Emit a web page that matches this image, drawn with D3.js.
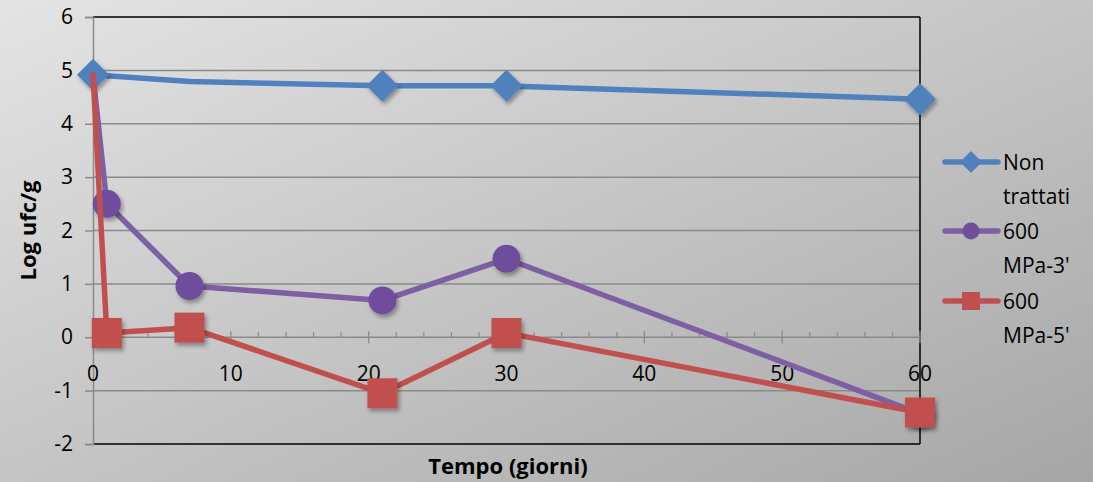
<!DOCTYPE html>
<html>
<head>
<meta charset="utf-8">
<script src="https://cdn.jsdelivr.net/npm/d3@7"></script>
<style>
  html, body { margin: 0; padding: 0; }
  body { width: 1093px; height: 482px; overflow: hidden; }
  svg { display: block; font-family: "Open Sans", "Noto Sans", sans-serif; }
</style>
</head>
<body>
<svg id="chart" width="1093" height="482"></svg>
<script>
// Sampling days
const days = [0, 1, 7, 21, 30, 60];

// Log ufc/g per series (null = not sampled)
const nonTrattati = [4.92, null, 4.79, 4.71, 4.71, 4.46];
const mpa3 = [4.92, 2.5, 0.96, 0.69, 1.47, -1.43];
const mpa5 = [4.92, 0.08, 0.18, -1.05, 0.08, -1.41];

const seriesNames = ["Non trattati", "600 MPa-3'", "600 MPa-5'"];
const legendLines = [["Non", "trattati"], ["600", "MPa-3'"], ["600", "MPa-5'"]];

const xTicks = [0, 10, 20, 30, 40, 50, 60];
const yTicks = [-2, -1, 0, 1, 2, 3, 4, 5, 6];

// Which points carry a marker
const markerShown = [
  [true, false, false, true, true, true],
  [false, true, true, true, true, true],
  [false, true, true, true, true, true]
];

const styles = [
  { color: "#4f81bd", fill: "#4f81bd", shape: "diamond" },
  { color: "#7e5fa3", fill: "#6f4e9c", shape: "circle" },
  { color: "#c0504d", fill: "#c0504d", shape: "square" }
];

const svg = d3.select("#chart");
const W = 1093, H = 482;

const defs = svg.append("defs");
const bg = defs.append("linearGradient").attr("id", "bg")
  .attr("x1", "0%").attr("y1", "0%").attr("x2", "100%").attr("y2", "100%");
bg.append("stop").attr("offset", "0%").attr("stop-color", "#e4e4e4");
bg.append("stop").attr("offset", "100%").attr("stop-color", "#a6a6a6");

const shadow = defs.append("filter").attr("id", "shadow")
  .attr("x", "-40%").attr("y", "-40%").attr("width", "190%").attr("height", "190%");
shadow.append("feDropShadow").attr("dx", 2).attr("dy", 3).attr("stdDeviation", 2)
  .attr("flood-color", "#000").attr("flood-opacity", 0.35);

svg.append("rect").attr("width", W).attr("height", H).attr("fill", "url(#bg)");

const x = d3.scaleLinear().domain([0, 60]).range([93, 920]);
const y = d3.scaleLinear().domain([-2, 6]).range([444, 17]);

const g = svg.append("g");

// Horizontal gridlines
g.selectAll("line.grid").data(yTicks.filter(v => v !== 6 && v !== -2 && v !== 0))
  .join("line").attr("class", "grid")
  .attr("x1", x(0)).attr("x2", x(60))
  .attr("y1", d => y(d)).attr("y2", d => y(d))
  .attr("stroke", "#8a8a8a").attr("stroke-width", 1.5);

// Plot frame: top, right, bottom in black
g.append("line").attr("x1", x(0)).attr("x2", x(60)).attr("y1", y(6)).attr("y2", y(6))
  .attr("stroke", "#000").attr("stroke-width", 1.5);
g.append("line").attr("x1", x(0)).attr("x2", x(60)).attr("y1", y(-2)).attr("y2", y(-2))
  .attr("stroke", "#000").attr("stroke-width", 1.5);
g.append("line").attr("x1", x(60)).attr("x2", x(60)).attr("y1", y(6)).attr("y2", y(-2))
  .attr("stroke", "#000").attr("stroke-width", 1.5);

// Y axis
const yAxis = d3.axisLeft(y).tickValues(yTicks).tickSize(8).tickPadding(12)
  .tickFormat(d => String(d));
const ya = svg.append("g").attr("transform", `translate(${x(0)},0)`).call(yAxis);
ya.select(".domain").attr("stroke", "#8a8a8a").attr("stroke-width", 1.5);
ya.selectAll(".tick line").attr("stroke", "#8a8a8a").attr("stroke-width", 1.5);
ya.selectAll(".tick text").attr("font-size", 21).attr("fill", "#000")
  .attr("font-family", "'Open Sans', sans-serif");

// X axis at y = 0, minor ticks above, major ticks crossing
const minorTicks = d3.range(0, 61, 2).filter(v => v % 10 !== 0);
const xa = svg.append("g").attr("transform", `translate(0,${y(0)})`);
xa.append("line").attr("x1", x(0)).attr("x2", x(60)).attr("stroke", "#8a8a8a").attr("stroke-width", 1.5);
xa.selectAll("line.minor").data(minorTicks).join("line").attr("class", "minor")
  .attr("x1", d => x(d)).attr("x2", d => x(d)).attr("y1", -5).attr("y2", 0)
  .attr("stroke", "#8a8a8a").attr("stroke-width", 1.3);
xa.selectAll("line.major").data(xTicks).join("line").attr("class", "major")
  .attr("x1", d => x(d)).attr("x2", d => x(d)).attr("y1", -6).attr("y2", 6)
  .attr("stroke", "#8a8a8a").attr("stroke-width", 1.3);
xa.selectAll("text").data(xTicks).join("text")
  .attr("x", d => x(d)).attr("y", 44).attr("text-anchor", "middle")
  .attr("font-size", 21).attr("fill", "#000").text(d => d);

// Axis titles
svg.append("text").attr("transform", `translate(36,${y(2)}) rotate(-90)`)
  .attr("text-anchor", "middle").attr("font-size", 22).attr("font-weight", "bold")
  .text("Log ufc/g");
svg.append("text").attr("x", 508).attr("y", 474).attr("text-anchor", "middle")
  .attr("font-size", 22).attr("font-weight", "bold").text("Tempo (giorni)");

// Markers
function drawMarker(sel, shape, fill, size) {
  if (shape === "diamond") {
    const h = size / 2;
    sel.append("path").attr("d", `M0,${-h}L${h},0L0,${h}L${-h},0Z`).attr("fill", fill);
  } else if (shape === "circle") {
    sel.append("circle").attr("r", size / 2).attr("fill", fill);
  } else {
    sel.append("rect").attr("x", -size / 2).attr("y", -size / 2)
      .attr("width", size).attr("height", size).attr("fill", fill);
  }
}

const allSeries = [nonTrattati, mpa3, mpa5];
const markerSize = { diamond: 32, circle: 28, square: 30 };
const line = d3.line().defined(d => d.v !== null).x(d => x(d.t)).y(d => y(d.v));

allSeries.forEach((vals, i) => {
  const pts = days.map((t, k) => ({ t, v: vals[k], m: markerShown[i][k] }))
    .filter(p => p.v !== null);
  const sg = svg.append("g");
  sg.append("path").datum(pts).attr("d", line).attr("fill", "none")
    .attr("stroke", styles[i].color).attr("stroke-width", 5.5)
    .attr("stroke-linejoin", "round").attr("stroke-linecap", "round");
  pts.filter(p => p.m).forEach(p => {
    const mg = sg.append("g").attr("transform", `translate(${x(p.t)},${y(p.v)})`)
      .attr("filter", "url(#shadow)");
    drawMarker(mg, styles[i].shape, styles[i].fill, markerSize[styles[i].shape]);
  });
});

// Legend
const legendY = [162, 231, 301];
const lg = svg.append("g");
seriesNames.forEach((name, i) => {
  const row = lg.append("g").attr("transform", `translate(0,${legendY[i]})`);
  row.append("line").attr("x1", 945).attr("x2", 998).attr("stroke", styles[i].color)
    .attr("stroke-width", 5.5).attr("stroke-linecap", "round");
  const mg = row.append("g").attr("transform", "translate(971,0)");
  drawMarker(mg, styles[i].shape, styles[i].fill, { diamond: 22, circle: 17, square: 18 }[styles[i].shape]);
  const t = row.append("text").attr("x", 1003).attr("y", 8).attr("font-size", 21).attr("fill", "#000");
  legendLines[i].forEach((ln, k) => {
    t.append("tspan").attr("x", 1003).attr("dy", k === 0 ? 0 : 33.5).text(ln);
  });
});
</script>
</body>
</html>
